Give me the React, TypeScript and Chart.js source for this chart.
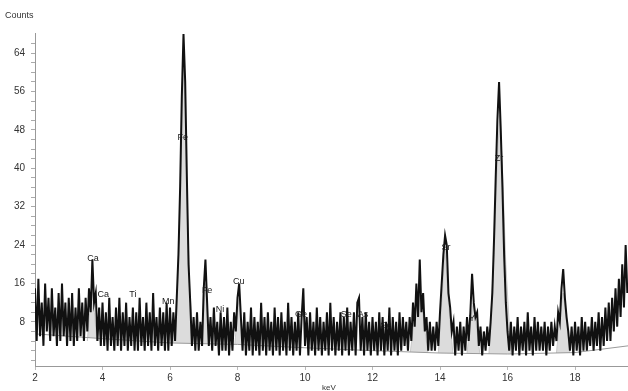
import React, { useEffect, useRef } from "react";
import { Chart, registerables } from "chart.js";

Chart.register(...registerables);

// Spectrum channels: 0.05 keV per channel starting at 2.00 keV
const channelStartKeV = 2.0;
const channelWidthKeV = 0.05;

const counts2to3 = [15, 4, 17, 5, 12, 3, 16, 6, 13, 4, 15, 5, 11, 3, 14, 4, 16, 5, 12, 3];
const counts3to4 = [13, 4, 14, 3, 11, 4, 15, 5, 12, 4, 13, 6, 15, 10, 21, 12, 14, 4, 11, 3];
const counts4to5 = [12, 3, 10, 2, 13, 3, 9, 2, 11, 3, 13, 2, 10, 3, 12, 2, 9, 3, 11, 2];
const counts5to6 = [10, 2, 13, 3, 9, 2, 12, 3, 10, 2, 14, 3, 9, 2, 11, 3, 10, 2, 12, 2];
const counts6to7 = [11, 3, 10, 4, 13, 22, 36, 55, 68, 58, 38, 20, 12, 3, 9, 2, 10, 2, 8, 3];
const counts7to8 = [15, 21, 12, 3, 9, 2, 11, 3, 8, 1, 10, 2, 9, 2, 11, 1, 8, 2, 10, 6];
const counts8to9 = [13, 16, 9, 2, 10, 1, 8, 2, 11, 1, 9, 2, 8, 1, 12, 2, 9, 1, 10, 2];
const counts9to10 = [8, 1, 11, 2, 9, 1, 10, 2, 8, 1, 12, 2, 9, 1, 8, 2, 10, 1, 9, 15];
const counts10to11 = [3, 9, 1, 10, 2, 8, 1, 11, 2, 9, 1, 8, 2, 10, 1, 12, 2, 9, 1, 8];
const counts11to12 = [2, 10, 1, 9, 2, 11, 1, 8, 2, 10, 1, 12, 13, 2, 9, 1, 10, 2, 8, 1];
const counts12to13 = [9, 2, 8, 1, 10, 2, 9, 1, 8, 2, 11, 1, 9, 2, 8, 1, 10, 2, 9, 3];
const counts13to14 = [8, 2, 9, 4, 12, 7, 16, 9, 21, 10, 14, 6, 9, 2, 8, 2, 7, 2, 8, 3];
const counts14to15 = [10, 16, 22, 26, 24, 14, 11, 6, 8, 1, 7, 2, 8, 1, 7, 2, 9, 4, 10, 18];
const counts15to16 = [12, 9, 10, 3, 7, 1, 6, 2, 7, 3, 8, 14, 25, 38, 50, 58, 48, 36, 22, 12];
const counts16to17 = [6, 2, 8, 1, 7, 2, 9, 1, 7, 2, 8, 1, 10, 2, 7, 1, 9, 2, 8, 2];
const counts17to18 = [7, 2, 8, 1, 7, 2, 8, 3, 7, 4, 10, 8, 15, 19, 13, 9, 6, 2, 7, 1];
const counts18to19 = [8, 2, 7, 1, 9, 2, 8, 2, 7, 3, 9, 2, 8, 3, 10, 2, 9, 3, 11, 4];
const counts19toEnd = [12, 4, 13, 6, 15, 7, 17, 9, 20, 11, 24, 14];

const spectrumCounts = [
  ...counts2to3, ...counts3to4, ...counts4to5, ...counts5to6, ...counts6to7,
  ...counts7to8, ...counts8to9, ...counts9to10, ...counts10to11, ...counts11to12,
  ...counts12to13, ...counts13to14, ...counts14to15, ...counts15to16,
  ...counts16to17, ...counts17to18, ...counts18to19, ...counts19toEnd,
];

// Continuum background
const backgroundKeV = [2, 4, 6, 8, 10, 12, 14, 16, 18, 19.57];
const backgroundCounts = [5.5, 4.5, 3.6, 3.3, 2.6, 2.0, 1.5, 1.3, 1.6, 3.0];

// Fitted peak profiles (null = gap)
const fitKeV = [
  3.55, 3.62, 3.69, 3.76, 3.83, 3.84,
  6.1, 6.22, 6.3, 6.35, 6.4, 6.45, 6.5, 6.58, 6.7, 6.71,
  6.95, 7.0, 7.05, 7.1, 7.16, 7.17,
  7.92, 8.0, 8.05, 8.1, 8.18, 8.19,
  13.12, 13.25, 13.38, 13.5, 13.64, 13.65,
  13.95, 14.05, 14.15, 14.25, 14.38, 14.39,
  14.8, 14.9, 14.98, 15.06, 15.18, 15.19,
  15.45, 15.6, 15.7, 15.77, 15.85, 15.95, 16.1, 16.11,
  17.45, 17.55, 17.65, 17.75, 17.85,
];
const fitCounts = [
  4, 10, 16, 10, 4, null,
  3.6, 15, 33, 50, 62, 52, 35, 15, 3.6, null,
  3.5, 10, 16, 10, 3.5, null,
  3.3, 10, 13, 9, 3.3, null,
  1.7, 9, 15, 9, 1.6, null,
  1.5, 12, 23, 12, 1.5, null,
  1.4, 8, 12, 8, 1.4, null,
  1.3, 22, 42, 51, 40, 20, 1.3, null,
  1.5, 9, 14, 8, 1.5,
];

// Element markers
const peakLabels = ["Ca", "Ca", "Ti", "Mn", "Fe", "Fe", "Ni", "Cu", "Ge", "Se", "As", "Se", "Sr", "Y", "Zr"];
const labelKeV = [3.72, 4.02, 4.9, 5.95, 6.38, 7.1, 7.48, 8.04, 9.88, 11.22, 11.72, 12.4, 14.18, 14.95, 15.75];
const labelCounts = [21.2, 13.6, 13.6, 12.3, 46.5, 14.6, 10.6, 16.5, 9.6, 9.6, 9.6, 7.2, 23.4, 8.6, 42];

const xTicks = [2, 4, 6, 8, 10, 12, 14, 16, 18];
const yTicks = [0, 2, 4, 6, 8, 10, 12, 14, 16, 18, 20, 22, 24, 26, 28, 30, 32, 34, 36, 38, 40, 42, 44, 46, 48, 50, 52, 54, 56, 58, 60, 62, 64, 66];
const yLabelStep = 8;

const labelPlugin = {
  id: "peakLabels",
  afterDatasetsDraw(chart: any) {
    const { ctx, scales } = chart;
    ctx.save();
    ctx.font = "9px 'Liberation Sans', Arial, sans-serif";
    ctx.fillStyle = "#1a1a1a";
    ctx.textAlign = "center";
    ctx.textBaseline = "middle";
    peakLabels.forEach((t, i) => {
      const x = scales.x.getPixelForValue(labelKeV[i]);
      const y = scales.y.getPixelForValue(labelCounts[i]);
      ctx.fillText(t, x, y);
    });
    ctx.restore();
  },
};

export default function App() {
  const ref = useRef<HTMLCanvasElement | null>(null);

  useEffect(() => {
    if (!ref.current) return;
    const spectrum = spectrumCounts.map((c, i) => ({
      x: channelStartKeV + i * channelWidthKeV,
      y: c,
    }));
    const background = backgroundKeV.map((k, i) => ({ x: k, y: backgroundCounts[i] }));
    const fit = fitKeV.map((k, i) => ({ x: k, y: fitCounts[i] }));
    const font = { family: "'Liberation Sans', Arial, sans-serif", size: 10 };

    const chart = new Chart(ref.current, {
      type: "line",
      data: {
        datasets: [
          {
            label: "Spectrum",
            data: spectrum,
            borderColor: "#111111",
            borderWidth: 2,
            pointRadius: 0,
            tension: 0,
            fill: false,
          },
          {
            label: "Background",
            data: background,
            borderColor: "#9a9a9a",
            borderWidth: 1,
            pointRadius: 0,
            fill: false,
          },
          {
            label: "Fit",
            data: fit,
            borderColor: "#c8c8c8",
            borderWidth: 1,
            backgroundColor: "#dcdcdc",
            pointRadius: 0,
            spanGaps: false,
            fill: 1,
          },
        ],
      },
      options: {
        animation: false,
        responsive: false,
        devicePixelRatio: 1,
        layout: { padding: { top: 33, left: 0, right: 0, bottom: 0 } },
        plugins: { legend: { display: false }, tooltip: { enabled: false } },
        scales: {
          x: {
            type: "linear",
            min: 2,
            max: 19.57,
            afterBuildTicks: (s: any) => {
              s.ticks = xTicks.map((v) => ({ value: v }));
            },
            afterFit: (s: any) => {
              s.height = 25;
            },
            ticks: {
              font,
              color: "#333",
              padding: 2,
              maxRotation: 0,
              autoSkip: false,
              callback: (v: any) => String(v),
            },
            grid: { drawOnChartArea: false, tickLength: 4, tickColor: "#bbb" },
            border: { color: "#999", width: 1 },
          },
          y: {
            type: "linear",
            min: -1.2,
            max: 68.2,
            afterBuildTicks: (s: any) => {
              s.ticks = yTicks.map((v) => ({ value: v }));
            },
            afterFit: (s: any) => {
              s.width = 35;
            },
            ticks: {
              font,
              color: "#333",
              padding: 6,
              autoSkip: false,
              callback: (v: any) => (v > 0 && v % yLabelStep === 0 ? String(v) : ""),
            },
            grid: { drawOnChartArea: false, tickLength: 4, tickColor: "#aaa" },
            border: { color: "#999", width: 1 },
          },
        },
      },
      plugins: [labelPlugin],
    } as any);
    return () => chart.destroy();
  }, []);

  return (
    <div style={{ position: "fixed", left: 0, top: 0, width: 628, height: 391, background: "#fff", overflow: "hidden" }}>
      <canvas ref={ref} width={628} height={391} style={{ display: "block" }} />
      <div style={{ position: "absolute", left: 5, top: 10, font: "9px 'Liberation Sans', Arial, sans-serif", color: "#333" }}>
        Counts
      </div>
      <div style={{ position: "absolute", left: 322, top: 383, font: "8px 'Liberation Sans', Arial, sans-serif", color: "#333" }}>
        keV
      </div>
    </div>
  );
}
